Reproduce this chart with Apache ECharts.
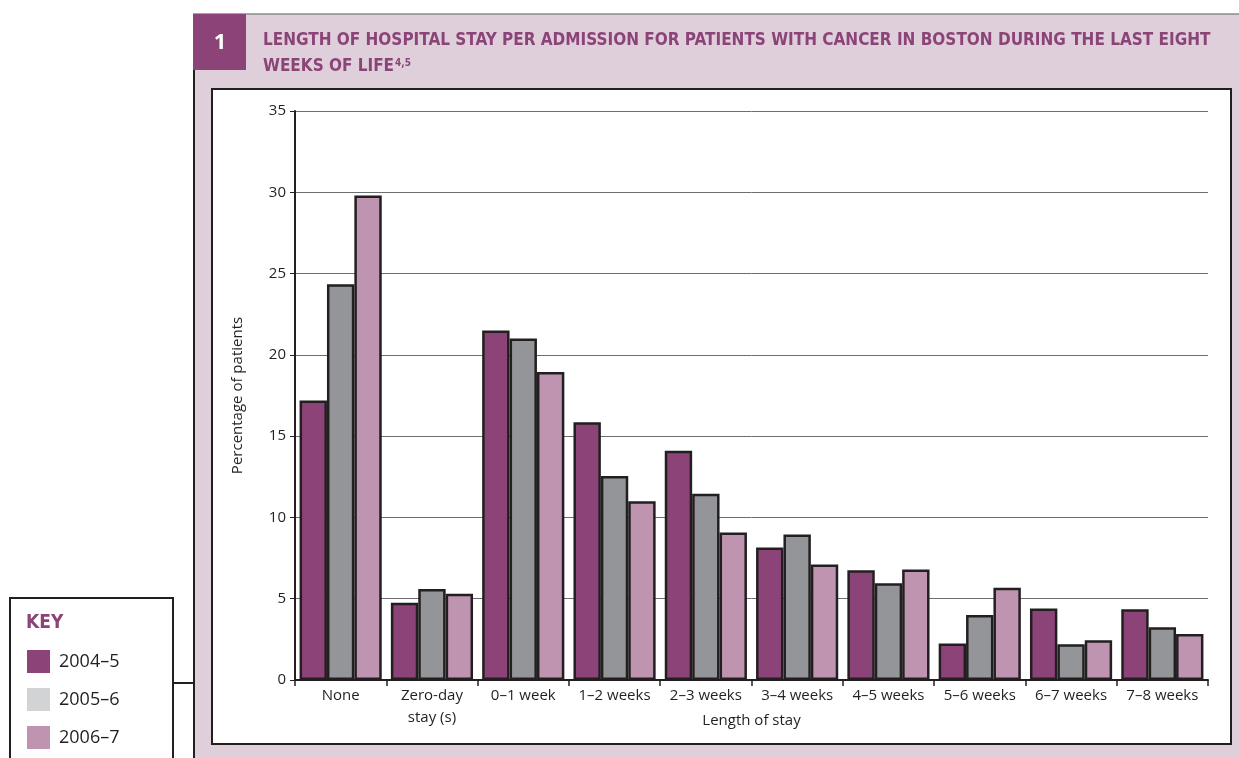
<!DOCTYPE html>
<html>
<head>
<meta charset="utf-8">
<title>Length of hospital stay per admission</title>
<script src="https://cdn.jsdelivr.net/npm/echarts@6/dist/echarts.min.js"></script>
<style>
  html, body { margin: 0; padding: 0; background: #ffffff; }
  #chart { width: 1239px; height: 758px; }
</style>
</head>
<body>
<div id="chart"></div>
<script>
// Length-of-stay bands (x axis)
const categories = ['None', 'Zero-day\nstay (s)', '0–1 week', '1–2 weeks', '2–3 weeks',
  '3–4 weeks', '4–5 weeks', '5–6 weeks', '6–7 weeks', '7–8 weeks'];

// Percentage of patients per band, one array per year
const series2004 = [17.2, 4.75, 21.5, 15.85, 14.1, 8.15, 6.75, 2.25, 4.4, 4.35];
const series2005 = [24.35, 5.6, 21.0, 12.55, 11.45, 8.95, 5.95, 4.0, 2.2, 3.25];
const series2006 = [29.8, 5.3, 18.95, 11.0, 9.08, 7.1, 6.8, 5.68, 2.45, 2.83];

const yearNames = ['2004–5', '2005–6', '2006–7'];
const yTicks = { min: 0, max: 35, interval: 5 };

const PURPLE = '#8c4478';
const GREY = '#939598';
const PINK = '#bf94b0';
const KEY_GREY = '#d1d3d4';
const INK = '#231f20';
const PANEL = '#dfcfdb';
const FONT = "'Open Sans', 'Noto Sans', sans-serif";
const NARROW = "'Liberation Sans Narrow', 'DejaVu Sans Condensed', sans-serif";

const chart = echarts.init(document.getElementById('chart'), null, { renderer: 'canvas' });

function barSeries(name, data, color) {
  return {
    name: name,
    type: 'bar',
    data: data,
    barGap: '0%',
    barCategoryGap: '10%',
    itemStyle: { color: color, borderColor: INK, borderWidth: 2.5 },
    emphasis: { disabled: true }
  };
}

const option = {
  backgroundColor: '#ffffff',
  animation: false,
  grid: { left: 295, right: 31, top: 111, bottom: 78, containLabel: false },
  legend: {
    orient: 'vertical',
    left: 27,
    top: 650,
    padding: 0,
    itemWidth: 23,
    itemHeight: 23,
    itemGap: 15,
    icon: 'rect',
    selectedMode: false,
    textStyle: { fontFamily: FONT, fontSize: 18, color: INK, padding: [0, 0, 0, 4] },
    data: [
      { name: yearNames[0], itemStyle: { color: PURPLE, borderWidth: 0 } },
      { name: yearNames[1], itemStyle: { color: KEY_GREY, borderWidth: 0 } },
      { name: yearNames[2], itemStyle: { color: PINK, borderWidth: 0 } }
    ]
  },
  xAxis: {
    type: 'category',
    data: categories,
    name: 'Length of stay',
    nameLocation: 'middle',
    nameGap: 33,
    nameMoveOverlap: false,
    nameTextStyle: { fontFamily: FONT, fontSize: 15, color: INK },
    axisLine: { show: true, lineStyle: { color: INK, width: 2 } },
    axisTick: { show: true, length: 6, alignWithLabel: false, lineStyle: { color: INK, width: 1.5 } },
    axisLabel: { interval: 0, fontFamily: FONT, fontSize: 15, color: INK, margin: 5, lineHeight: 22 }
  },
  yAxis: {
    type: 'value',
    min: yTicks.min,
    max: yTicks.max,
    interval: yTicks.interval,
    name: 'Percentage of patients',
    nameLocation: 'middle',
    nameGap: 50,
    nameMoveOverlap: false,
    nameTextStyle: { fontFamily: FONT, fontSize: 15, color: INK },
    axisLine: { show: true, lineStyle: { color: INK, width: 2 } },
    axisTick: { show: true, length: 5, inside: false, lineStyle: { color: INK, width: 1 } },
    axisLabel: { fontFamily: FONT, fontSize: 15, color: INK, margin: 9 },
    splitLine: { show: true, lineStyle: { color: '#6d6e71', width: 1 } }
  },
  series: [
    barSeries(yearNames[0], series2004, PURPLE),
    barSeries(yearNames[1], series2005, GREY),
    barSeries(yearNames[2], series2006, PINK)
  ],
  graphic: [
    // tinted figure panel
    { type: 'rect', z: -20, silent: true, shape: { x: 193, y: 14, width: 1046, height: 744 },
      style: { fill: PANEL } },
    { type: 'line', z: -19, silent: true, shape: { x1: 193, y1: 14, x2: 1239, y2: 14 },
      style: { stroke: '#8a8a8a', lineWidth: 1.5 } },
    { type: 'line', z: -19, silent: true, shape: { x1: 194, y1: 14, x2: 194, y2: 758 },
      style: { stroke: INK, lineWidth: 2 } },
    // figure number tab
    { type: 'rect', z: -18, silent: true, shape: { x: 193, y: 14, width: 53, height: 56 },
      style: { fill: PURPLE } },
    { type: 'text', z: -17, silent: true, style: { x: 220, y: 43, text: '1', fill: '#ffffff',
      font: "bold 22px " + FONT, align: 'center', verticalAlign: 'middle' } },
    // title
    { type: 'text', z: -17, silent: true, style: {
      x: 263, y: 41, verticalAlign: 'middle', fill: PURPLE,
      text: 'LENGTH OF HOSPITAL STAY PER ADMISSION FOR PATIENTS WITH CANCER IN BOSTON DURING THE LAST EIGHT',
      font: "bold 17px " + NARROW } },
    { type: 'text', z: -17, silent: true, style: {
      x: 263, y: 67, verticalAlign: 'middle', fill: PURPLE,
      text: '{t|WEEKS OF LIFE}{s|4,5}',
      rich: {
        t: { font: "bold 17px " + NARROW, fill: PURPLE },
        s: { font: "bold 10px " + NARROW, fill: PURPLE, verticalAlign: 'top', padding: [0, 0, 6, 1] }
      } } },
    // white chart box
    { type: 'rect', z: -16, silent: true, shape: { x: 212, y: 89, width: 1019, height: 655 },
      style: { fill: '#ffffff', stroke: INK, lineWidth: 2 } },
    // key box and connector
    { type: 'line', z: -15, silent: true, shape: { x1: 173, y1: 683, x2: 194, y2: 683 },
      style: { stroke: INK, lineWidth: 2 } },
    { type: 'rect', z: -15, silent: true, shape: { x: 10, y: 598, width: 163, height: 175 },
      style: { fill: '#ffffff', stroke: INK, lineWidth: 2 } },
    { type: 'text', z: -14, silent: true, style: { x: 26, y: 623, text: 'KEY', fill: PURPLE,
      font: "bold 19px " + NARROW, verticalAlign: 'middle' } }
  ]
};

chart.setOption(option);
</script>
</body>
</html>
